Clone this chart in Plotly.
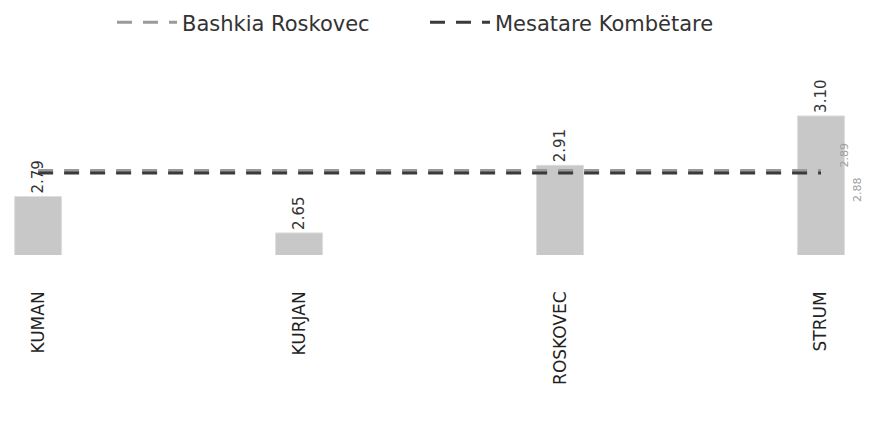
import plotly.graph_objects as go

categories = ["KUMAN", "KURJAN", "ROSKOVEC", "STRUM"]
values = [2.79, 2.65, 2.91, 3.10]
bashkia_name = "Bashkia Roskovec"
bashkia_value = 2.89
national_name = "Mesatare Kombëtare"
national_value = 2.88

FONT = "DejaVu Sans"

fig = go.Figure()
fig.add_trace(go.Bar(
    x=categories, y=values, width=0.18,
    marker=dict(color="#c8c8c8", line=dict(color="#dedede", width=1)),
    text=[f"{v:.2f}" for v in values], textposition="outside", textangle=-90,
    textfont=dict(family=FONT, size=15, color="#333333"),
    cliponaxis=False, showlegend=False, hoverinfo="skip"))
fig.add_trace(go.Scatter(
    x=categories, y=[bashkia_value] * len(categories), mode="lines",
    name=bashkia_name, line=dict(color="#9a9a9a", width=3, dash="15px,11px")))
fig.add_trace(go.Scatter(
    x=categories, y=[national_value] * len(categories), mode="lines",
    name=national_name, line=dict(color="#3a3a3a", width=3, dash="15px,11px")))

fig.add_annotation(x=categories[-1], y=bashkia_value, text=f"{bashkia_value:.2f}",
                   textangle=-90, showarrow=False, xshift=24, yshift=16,
                   font=dict(family=FONT, size=11, color="#a0a0a0"))
fig.add_annotation(x=categories[-1], y=national_value, text=f"{national_value:.2f}",
                   textangle=-90, showarrow=False, xshift=36, yshift=-16,
                   font=dict(family=FONT, size=11, color="#a0a0a0"))

fig.update_layout(
    width=869, height=430, margin=dict(l=0, r=0, t=40, b=175, autoexpand=False),
    paper_bgcolor="white", plot_bgcolor="white",
    font=dict(family=FONT, color="#333333"),
    bargap=0.8,
    legend=dict(orientation="h", x=112 / 869, xanchor="left", xref="container",
                y=0.995, yanchor="top", yref="container",
                font=dict(family=FONT, size=21, color="#333333"),
                itemwidth=60, entrywidth=238),
    xaxis=dict(range=[-0.146, 3.184], showgrid=False, showline=False, zeroline=False,
               automargin=False,
               tickangle=-90, ticks="", ticklabelstandoff=32,
               tickfont=dict(family=FONT, size=17, color="#222222")),
    yaxis=dict(range=[2.565, 3.392], visible=False, automargin=False),
)
fig.write_html("out.html", config={"displayModeBar": False},
               post_script="document.body.style.margin='0';document.body.style.overflow='hidden';")
